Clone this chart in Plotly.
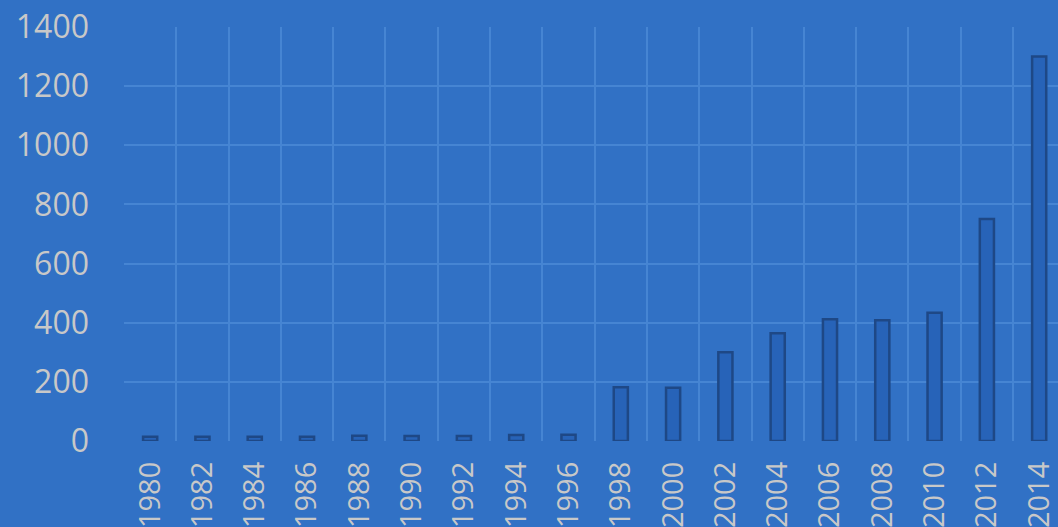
import plotly.graph_objects as go

years = ["1980", "1982", "1984", "1986", "1988", "1990", "1992", "1994", "1996",
         "1998", "2000", "2002", "2004", "2006", "2008", "2010", "2012", "2014"]
values = [14, 14, 14, 14, 18, 17, 17, 20, 21,
          182, 180, 300, 364, 412, 408, 434, 751, 1300]
y_ticks = [0, 200, 400, 600, 800, 1000, 1200, 1400]

bg = "rgb(49,113,197)"
text_color = "rgb(200,200,200)"

fig = go.Figure(go.Bar(
    x=years, y=values, width=0.27,
    marker=dict(color="rgb(39,99,184)", line=dict(color="rgb(30,72,134)", width=2.5)),
))

fig.update_layout(
    width=1058, height=527,
    margin=dict(l=124, r=0, t=27, b=86),
    paper_bgcolor=bg, plot_bgcolor=bg,
    showlegend=False,
    font=dict(family="Open Sans", color=text_color, size=32),
    bargap=0.73,
)
fig.update_xaxes(
    type="category", range=[-0.5, 17.36], tickson="boundaries",
    showgrid=True, gridcolor="rgb(70,133,211)", gridwidth=2,
    tickangle=-90, ticks="", showline=False, zeroline=False,
    tickfont=dict(size=29),
    ticklabelstandoff=14, automargin=False,
)
fig.update_yaxes(
    range=[0, 1400], tickvals=y_ticks,
    showgrid=True, gridcolor="rgb(70,133,211)", gridwidth=2,
    zeroline=False, showline=False, ticks="",
    ticklabelstandoff=34, automargin=False,
)

fig.write_html("out.html")
